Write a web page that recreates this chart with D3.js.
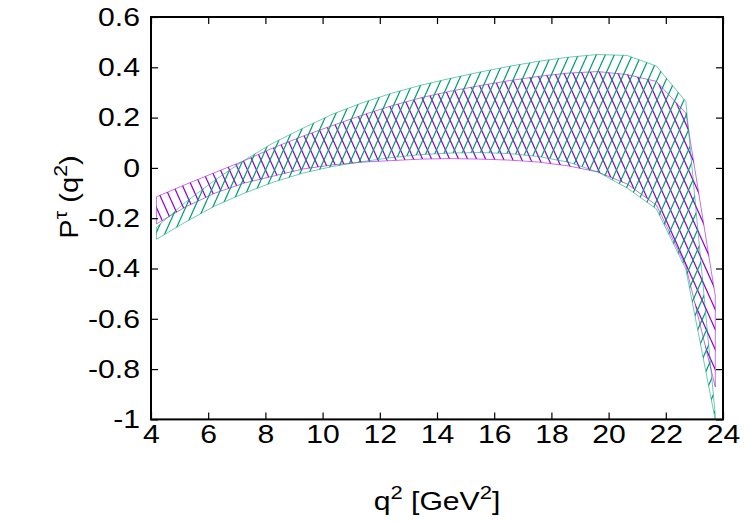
<!DOCTYPE html>
<html>
<head>
<meta charset="utf-8">
<script src="https://cdn.jsdelivr.net/npm/d3@7"></script>
<style>
  body { margin: 0; background: #fff; }
  svg { display: block; }
  text { font-family: "Liberation Sans", Arial, Helvetica, sans-serif; fill: #000; }
</style>
</head>
<body>
<svg id="chart" width="750" height="525"></svg>
<script>
// q^2 points (GeV^2)
const qsq = [4.19, 5.21, 6.24, 7.27, 8.30, 9.33, 10.36, 11.39, 12.42, 13.44,
             14.47, 15.50, 16.53, 17.56, 18.59, 19.62, 20.65, 21.67, 22.70, 23.73];

// purple band
const purpleUpper = [-0.115, -0.066, -0.018, 0.029, 0.081, 0.127, 0.169, 0.210, 0.247, 0.279,
                     0.305, 0.327, 0.347, 0.364, 0.377, 0.383, 0.371, 0.344, 0.218, -0.509];
const purpleLower = [-0.223, -0.155, -0.100, -0.060, -0.032, -0.004, 0.012, 0.023, 0.029, 0.035,
                     0.037, 0.035, 0.031, 0.023, 0.008, -0.016, -0.064, -0.148, -0.390, -0.871];

// green band
const greenUpper = [-0.236, -0.136, -0.048, 0.031, 0.101, 0.159, 0.214, 0.259, 0.297, 0.329,
                    0.356, 0.381, 0.404, 0.424, 0.440, 0.451, 0.447, 0.405, 0.264, -0.983];
const greenLower = [-0.284, -0.215, -0.151, -0.100, -0.056, -0.020, 0.006, 0.025, 0.041, 0.053,
                    0.059, 0.061, 0.057, 0.045, 0.023, -0.016, -0.080, -0.163, -0.402, -1.002];

const xTicks = [4, 6, 8, 10, 12, 14, 16, 18, 20, 22, 24];
const yTicks = [-1, -0.8, -0.6, -0.4, -0.2, 0, 0.2, 0.4, 0.6];

const purple = "#9400d3";
const green = "#009e73";

// plot area
const plotL = 151, plotR = 723, plotT = 17, plotB = 419.4;
const fontSize = 26;
const sx = 1.16;   // text looks stretched sideways

const svg = d3.select("#chart");

const x = d3.scaleLinear().domain([4, 24]).range([plotL, plotR]);
const y = d3.scaleLinear().domain([-1, 0.6]).range([plotB, plotT]);

// hatch patterns
const defs = svg.append("defs");
function hatch(id, color, rising) {
    const w = 9, h = 20;
    const p = defs.append("pattern")
        .attr("id", id)
        .attr("patternUnits", "userSpaceOnUse")
        .attr("width", w)
        .attr("height", h);
    const d = rising
        ? `M${-w},${h}L0,0M0,${h}L${w},0M${w},${h}L${2 * w},0`
        : `M${-w},0L0,${h}M0,0L${w},${h}M${w},0L${2 * w},${h}`;
    p.append("path")
        .attr("d", d)
        .attr("fill", "none")
        .attr("stroke", color)
        .attr("stroke-width", 1.25);
}
hatch("hatchPurple", purple, false);
hatch("hatchGreen", green, true);

defs.append("clipPath").attr("id", "plotClip")
    .append("rect")
    .attr("x", plotL).attr("y", plotT)
    .attr("width", plotR - plotL).attr("height", plotB - plotT);

const plot = svg.append("g").attr("clip-path", "url(#plotClip)");

function band(upper, lower, fillId, color) {
    const pts = qsq.map((q, i) => ({ q, hi: upper[i], lo: lower[i] }));
    const area = d3.area()
        .x(d => x(d.q))
        .y0(d => y(d.lo))
        .y1(d => y(d.hi));
    plot.append("path")
        .datum(pts)
        .attr("d", area)
        .attr("fill", `url(#${fillId})`)
        .attr("stroke", color)
        .attr("stroke-width", 0.8)
        .attr("stroke-opacity", 0.7);
}
band(purpleUpper, purpleLower, "hatchPurple", purple);
band(greenUpper, greenLower, "hatchGreen", green);

// axes (ticks inward on all sides)
const fmt = d => String(+d.toFixed(1));

const gx = svg.append("g")
    .attr("transform", `translate(0,${plotB})`)
    .call(d3.axisBottom(x).tickValues(xTicks).tickSize(-7).tickPadding(5).tickFormat(fmt));
const gy = svg.append("g")
    .attr("transform", `translate(${plotL},0)`)
    .call(d3.axisLeft(y).tickValues(yTicks).tickSize(-7).tickPadding(11).tickFormat(fmt));
const gt = svg.append("g")
    .attr("transform", `translate(0,${plotT})`)
    .call(d3.axisTop(x).tickValues(xTicks).tickSize(-7).tickFormat(""));
const gr = svg.append("g")
    .attr("transform", `translate(${plotR},0)`)
    .call(d3.axisRight(y).tickValues(yTicks).tickSize(-7).tickFormat(""));

[gx, gy, gt, gr].forEach(g => {
    g.select(".domain").remove();
    g.selectAll(".tick line").attr("stroke", "#000").attr("stroke-width", 1.2);
    g.selectAll(".tick text")
        .attr("fill", "#000")
        .style("font-size", fontSize + "px")
        .style("font-family", '"Liberation Sans", Arial, Helvetica, sans-serif');
});

gx.selectAll(".tick text").attr("transform", `scale(${sx},1)`);
gy.selectAll(".tick text")
    .attr("x", -11 / sx)
    .attr("transform", `scale(${sx},1)`);

// frame
svg.append("rect")
    .attr("x", plotL).attr("y", plotT)
    .attr("width", plotR - plotL).attr("height", plotB - plotT)
    .attr("fill", "none")
    .attr("stroke", "#000")
    .attr("stroke-width", 2);

// x title: q^2 [GeV^2]
const xt = svg.append("text")
    .attr("transform", `translate(${(plotL + plotR) / 2},510) scale(${sx},1)`)
    .attr("text-anchor", "middle")
    .style("font-size", fontSize + "px");
xt.append("tspan").text("q");
xt.append("tspan").attr("dy", -11).style("font-size", "19px").text("2");
xt.append("tspan").attr("dy", 11).text(" [GeV");
xt.append("tspan").attr("dy", -11).style("font-size", "19px").text("2");
xt.append("tspan").attr("dy", 11).text("]");

// y title: P^tau(q^2)
const yt = svg.append("text")
    .attr("transform", `translate(78,197) rotate(-90) scale(1.12,1)`)
    .attr("text-anchor", "middle")
    .style("font-size", fontSize + "px");
yt.append("tspan").text("P");
yt.append("tspan").attr("dy", -11).style("font-size", "19px").text("τ");
yt.append("tspan").attr("dy", 11).text(" (q");
yt.append("tspan").attr("dy", -11).style("font-size", "19px").text("2");
yt.append("tspan").attr("dy", 11).text(")");
</script>
</body>
</html>
